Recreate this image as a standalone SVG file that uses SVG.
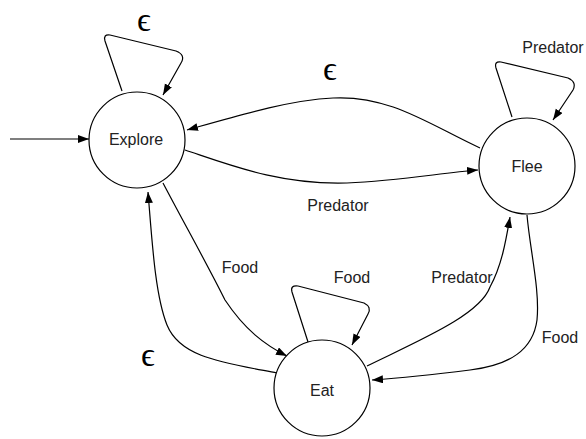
<svg xmlns="http://www.w3.org/2000/svg" width="586" height="439" viewBox="0 0 586 439">
<style>
.node{fill:#fff;stroke:#000;stroke-width:1.2}
.lbl{font-family:"Liberation Sans",Arial,sans-serif;font-size:16px;fill:#222;text-anchor:middle;dominant-baseline:central}
.eps{font-family:"Liberation Serif","DejaVu Serif",serif;font-size:34px;fill:#000;text-anchor:middle}
.edge{fill:none;stroke:#000;stroke-width:1.2;marker-end:url(#arr)}
</style>
<defs>
<marker id="arr" markerUnits="userSpaceOnUse" markerWidth="12" markerHeight="10" refX="11" refY="4" orient="auto">
<path d="M0,0 L11,4 L0,8 Z" fill="#000"/>
</marker>
</defs>
<g id="connectors">
<path class="edge" d="M10,139 L89,139"/>
<path class="edge" d="M122,91 L105,41 Q103,34 110,35 L176,51 Q186,55 181,63 L163,95"/>
<path class="edge" d="M512,117 L496,68 Q494,61 501,62 L568,78 Q577,82 573,90 L553,120"/>
<path class="edge" d="M308,342 L292,292 Q290,285 298,286 L364,303 Q372,307 368,314 L352,345"/>
<path class="edge" d="M480,148 C430,125 390,95 333,98 C290,100 240,115 187,130"/>
<path class="edge" d="M185,150 C230,165 280,185 347,183 C400,181 440,173 478,170"/>
<path class="edge" d="M163,183 C185,225 205,260 225,300 C245,330 265,345 287,356"/>
<path class="edge" d="M277,373 C220,362 180,357 167,325 C155,295 152,240 148,192"/>
<path class="edge" d="M367,366 C420,340 480,315 490,287 C502,265 506,240 510,217"/>
<path class="edge" d="M527,215 C530,250 540,290 537,320 C533,350 510,365 470,370 C430,375 400,378 372,380"/>
<text class="eps" x="144" y="31">ϵ</text>
<text class="eps" x="330" y="80">ϵ</text>
<text class="eps" x="148" y="366">ϵ</text>
<text class="lbl" x="553" y="47">Predator</text>
<text class="lbl" x="338" y="205">Predator</text>
<text class="lbl" x="240" y="267">Food</text>
<text class="lbl" x="352" y="277">Food</text>
<text class="lbl" x="462" y="277">Predator</text>
<text class="lbl" x="560" y="337">Food</text>
</g>
<g id="explore"><circle class="node" cx="137" cy="140" r="48"/><text class="lbl" x="136" y="139">Explore</text></g>
<g id="flee"><circle class="node" cx="527" cy="166" r="48"/><text class="lbl" x="527" y="166">Flee</text></g>
<g id="eat"><circle class="node" cx="322" cy="388" r="48"/><text class="lbl" x="322" y="390">Eat</text></g>
</svg>
